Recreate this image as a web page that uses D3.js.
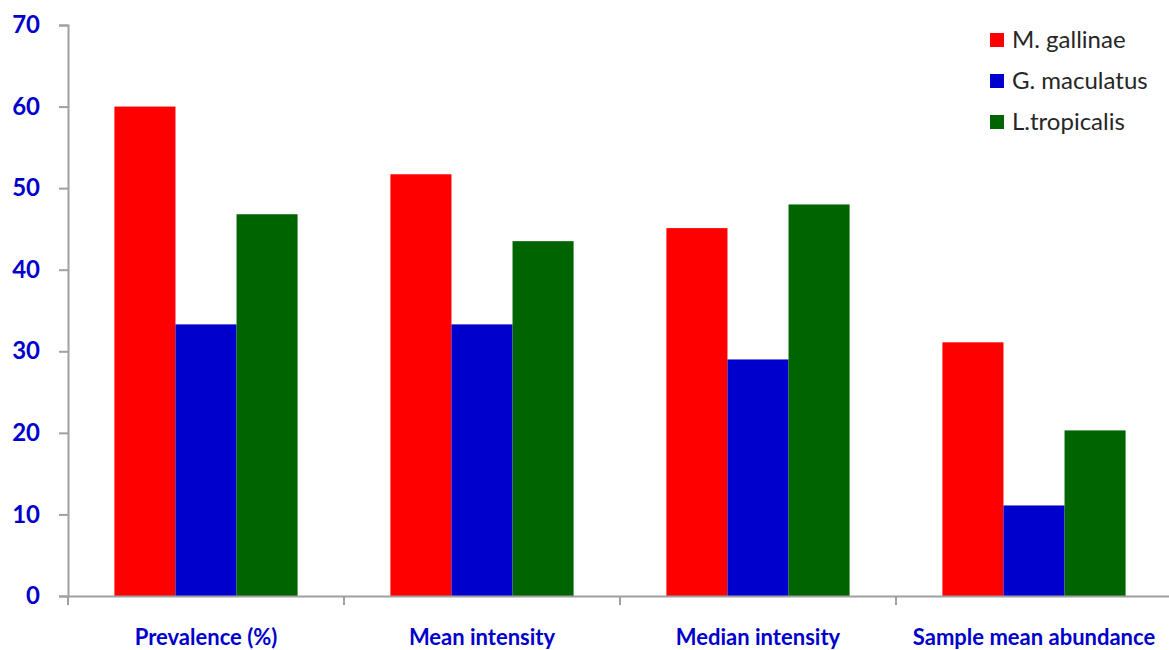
<!DOCTYPE html>
<html><head><meta charset="utf-8">
<script src="https://cdn.jsdelivr.net/npm/d3@7/dist/d3.min.js"></script>
<style>body{margin:0;background:#fff}svg{display:block}</style>
</head><body><svg id="c" width="1169" height="650"></svg>
<script>
const categories = ["Prevalence (%)", "Mean intensity", "Median intensity", "Sample mean abundance"];
const seriesNames = ["M. gallinae", "G. maculatus", "L.tropicalis"];
const mGallinae = [60, 51.7, 45.1, 31.1];
const gMaculatus = [33.3, 33.3, 29.0, 11.1];
const lTropicalis = [46.8, 43.5, 48.0, 20.3];
const colors = ["#ff0000", "#0000cc", "#006400"];
const yTicks = [0, 10, 20, 30, 40, 50, 60, 70];

const series = [mGallinae, gMaculatus, lTropicalis];
const svg = d3.select("#c");
const x0 = 68, x1 = 1172, yTop = 25, yBot = 596;
const x = d3.scaleBand().domain(categories).range([x0, x1]).paddingInner(0).paddingOuter(0);
const inner = d3.scaleBand().domain(seriesNames).range([0, x.bandwidth()]).paddingOuter(0.76).paddingInner(0);
const y = d3.scaleLinear().domain([0, 70]).range([yBot, yTop]);
const font = "Lato, 'Open Sans', sans-serif";

// bars
series.forEach((vals, si) => {
  svg.append("g").selectAll("rect").data(vals).join("rect")
    .attr("x", (d, i) => x(categories[i]) + inner(seriesNames[si]))
    .attr("width", inner.bandwidth())
    .attr("y", d => y(d))
    .attr("height", d => y(0) - y(d))
    .attr("fill", colors[si]);
});

// y axis
const yAxis = svg.append("g").attr("transform", `translate(${x0},0)`)
  .call(d3.axisLeft(y).tickValues(yTicks).tickSize(9).tickPadding(19));
yAxis.select(".domain").attr("stroke", "#a0a0a0").attr("stroke-width", 2);
yAxis.selectAll(".tick line").attr("stroke", "#a0a0a0").attr("stroke-width", 2);
yAxis.selectAll(".tick text").attr("fill", "#0000cc").attr("font-family", font)
  .attr("font-weight", "bold").attr("font-size", 24);

// x axis
const xAxis = svg.append("g").attr("transform", `translate(0,${yBot})`)
  .call(d3.axisBottom(x).tickSize(0).tickPadding(33));
xAxis.select(".domain").attr("stroke", "#a0a0a0").attr("stroke-width", 2);
xAxis.selectAll(".tick text").attr("fill", "#0000cc").attr("font-family", font)
  .attr("font-weight", "bold").attr("font-size", 22);
// category boundary ticks
const bounds = categories.map(c => x(c)).concat([x1]);
svg.append("g").selectAll("line").data(bounds).join("line")
  .attr("x1", d => d).attr("x2", d => d).attr("y1", yBot).attr("y2", yBot + 9)
  .attr("stroke", "#a0a0a0").attr("stroke-width", 2);

// legend
const lg = svg.append("g");
seriesNames.forEach((n, i) => {
  const g = lg.append("g").attr("transform", `translate(990,${40 + i * 41})`);
  g.append("rect").attr("x", 0).attr("y", -7).attr("width", 14).attr("height", 14).attr("fill", colors[i]);
  g.append("text").attr("x", 22).attr("y", 0).attr("dy", "0.35em").text(n)
    .attr("fill", "#262626").attr("font-family", font).attr("font-size", 24);
});
</script></body></html>
